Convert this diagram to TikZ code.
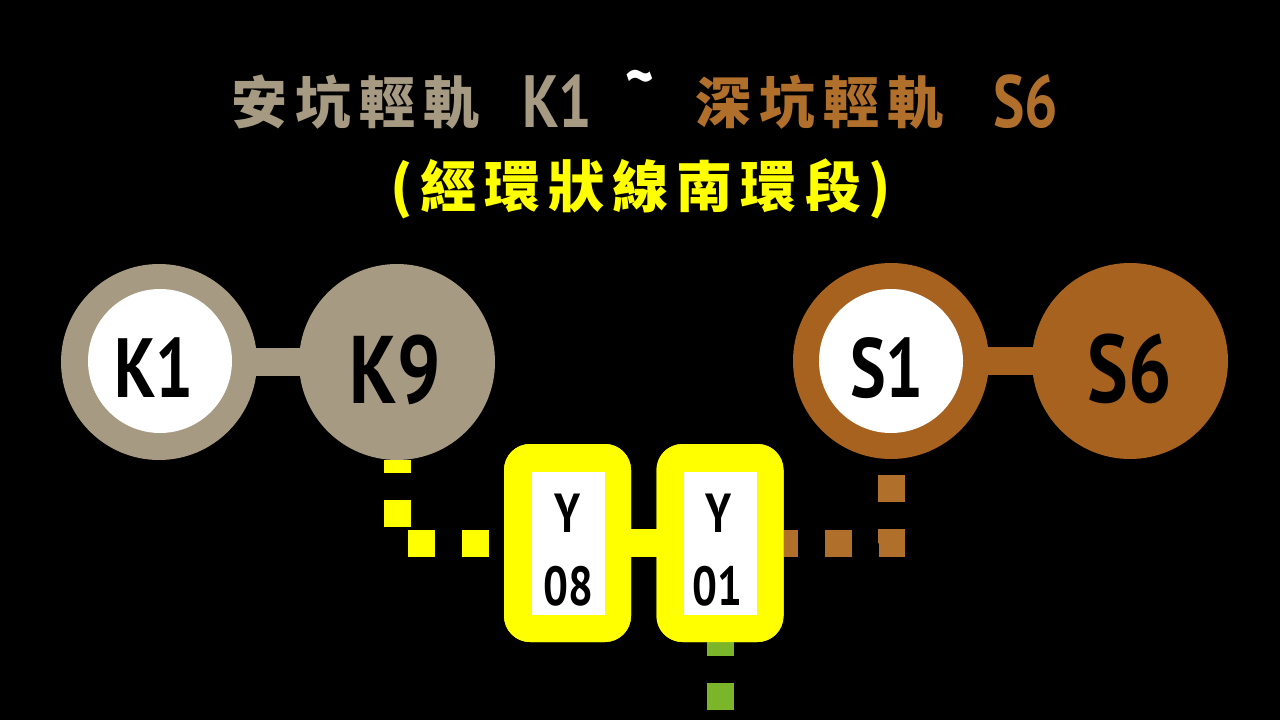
\documentclass[tikz,border=0pt]{standalone}
\usepackage{fontspec}
\setmainfont{PT Sans}
\newfontfamily\cjkfont{Noto Sans CJK TC}
\newfontfamily\latfont[FakeStretch=0.8]{PT Sans}
\definecolor{ktan}{HTML}{A69A82}
\definecolor{sbrown}{HTML}{A8621F}
\definecolor{sdot}{HTML}{B0702C}
\definecolor{ygold}{HTML}{FFFF00}
\definecolor{ggreen}{HTML}{7AB52A}
\newcommand\tgap{\hspace{8pt}}
\begin{document}
\begin{tikzpicture}[x=1pt,y=-1pt,
  outercirc/.style={circle,minimum size=196pt,inner sep=0pt,outer sep=0pt},
  innercirc/.style={circle,fill=white,minimum size=144pt,inner sep=0pt,outer sep=0pt},
  ybox/.style={rectangle,rounded corners=26pt,fill=ygold,minimum width=127pt,minimum height=198pt,inner sep=0pt,outer sep=0pt},
  ywin/.style={rectangle,fill=white,minimum width=73pt,minimum height=143pt,inner sep=0pt,outer sep=0pt},
  bigl/.style={anchor=base,inner sep=0pt,text=black,font=\latfont\bfseries\fontsize{96}{96}\selectfont},
  midl/.style={anchor=base,inner sep=0pt,text=black,font=\latfont\bfseries\fontsize{84}{84}\selectfont},
  boxl/.style={anchor=base,inner sep=0pt,text=black,font=\latfont\bfseries\fontsize{55}{55}\selectfont},
  cjkt/.style={anchor=base west,inner sep=0pt,font=\cjkfont\bfseries\fontsize{56}{56}\selectfont},
  latt/.style={anchor=base west,inner sep=0pt,font=\latfont\bfseries\fontsize{74}{74}\selectfont},
  link/.style={line width=28pt},
  dotline/.style={line width=27pt,dash pattern=on 27pt off 27pt}
]
\fill[black] (0,0) rectangle (1280,720);
\useasboundingbox (0,0) rectangle (1280,720);

% title
\node[cjkt,text=ktan] (t1) at (231,123) {安\tgap 坑\tgap 輕\tgap 軌};
\node[latt,text=ktan] (t2) at (522,127) {K1};
\node[anchor=base,inner sep=0pt,text=white,font=\latfont\bfseries\fontsize{68}{68}\selectfont] (t3) at (640,100) {\char`\~};
\node[cjkt,text=sdot] (t4) at (695,123) {深\tgap 坑\tgap 輕\tgap 軌};
\node[latt,text=sdot] (t5) at (993,127) {S6};
\node[anchor=base,inner sep=0pt,text=ygold,font=\cjkfont\bfseries\fontsize{56}{56}\selectfont] (t6) at (641,207) {(\tgap 經\tgap 環\tgap 狀\tgap 線\tgap 南\tgap 環\tgap 段\tgap)};

% station nodes (positions)
\node[outercirc] (k1) at (159,362) {};
\node[outercirc] (k9) at (397,362) {};
\node[outercirc] (s1) at (891,361) {};
\node[outercirc] (s6) at (1130,361) {};
\node[ybox] (y08) at (567.5,543) {};
\node[ybox] (y01) at (720,543) {};
\coordinate (gend) at (720,740);

% dotted transfer lines
\draw[dotline,ygold,dash phase=14pt] (k9.south) |- (y08.west);
\draw[dotline,sdot,dash phase=13pt] (y01.east) -| (s1.south);
\draw[dotline,ggreen,dash phase=13pt] (y01.south) -- (gend);

% solid links
\draw[link,ktan] (k1.center) -- (k9.center);
\draw[link,sbrown] (s1.center) -- (s6.center);
\draw[link,ygold] (y08.center) -- (y01.center);

% circles
\node[outercirc,fill=ktan] (k1c) at (k1) {};
\node[innercirc] (k1w) at (160,361) {};
\node[outercirc,fill=ktan] (k9c) at (k9) {};
\node[outercirc,fill=sbrown] (s1c) at (s1) {};
\node[innercirc] (s1w) at (s1) {};
\node[outercirc,fill=sbrown] (s6c) at (s6) {};

% yellow boxes
\node[ybox] (y08c) at (y08) {};
\node[ywin] (y08w) at (568.5,543.5) {};
\node[ybox] (y01c) at (y01) {};
\node[ywin] (y01w) at (720,543.5) {};

% labels
\node[midl] (k1t) at (154,397) {K1};
\node[bigl] (k9t) at (395,403) {K9};
\node[midl] (s1t) at (887,397) {S1};
\node[bigl] (s6t) at (1130,402) {S6};
\node[boxl] (y08a) at (568,532) {Y};
\node[boxl] (y08b) at (568,605) {08};
\node[boxl] (y01a) at (719,532) {Y};
\node[boxl] (y01b) at (717,605) {01};
\end{tikzpicture}
\end{document}
